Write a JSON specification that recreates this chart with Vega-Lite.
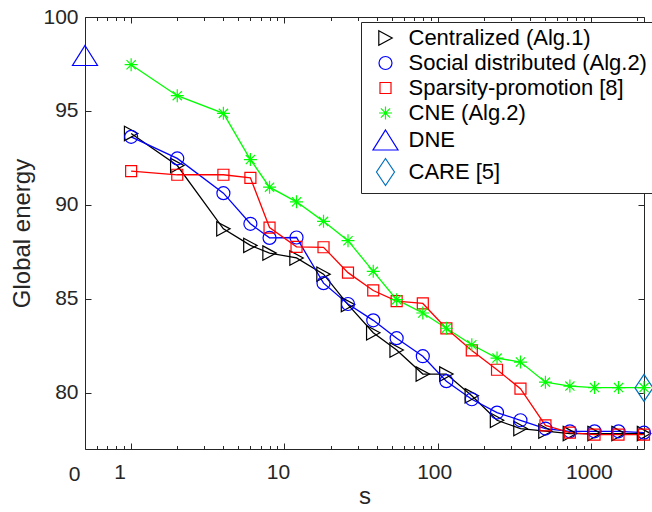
{
  "$schema": "https://vega.github.io/schema/vega-lite/v6.json",
  "width": 559,
  "height": 432,
  "autosize": {"type": "none"},
  "padding": {"left": 85, "top": 17, "right": 8, "bottom": 63},
  "background": "white",
  "config": {
    "view": {"stroke": null},
    "font": "Liberation Sans",
    "axis": {
      "domainColor": "#262626", "tickColor": "#262626", "labelColor": "#262626", "titleColor": "#262626",
      "labelFont": "Liberation Sans", "titleFont": "Liberation Sans", "labelFontSize": 21, "titleFontSize": 24,
      "titleFontWeight": "normal", "grid": false, "domainWidth": 1, "tickWidth": 1, "labelOverlap": false, "labelFlush": false
    },
    "legend": {
      "title": null, "orient": "none", "legendX": 276, "legendY": 5, "padding": 5,
      "strokeColor": "#262626", "fillColor": "white", "cornerRadius": 0,
      "labelFont": "Liberation Sans", "labelFontSize": 22, "labelColor": "#000000", "labelLimit": 500,
      "symbolSize": 400, "symbolStrokeWidth": 1.2, "rowPadding": 3, "labelOffset": 12, "symbolOffset": 8.5
    }
  },
  "data": {
    "values": [
      {"series": "Centralized (Alg.1)", "s": 1, "energy": 93.8},
      {"series": "Centralized (Alg.1)", "s": 2, "energy": 92.09},
      {"series": "Centralized (Alg.1)", "s": 4, "energy": 88.72},
      {"series": "Centralized (Alg.1)", "s": 6, "energy": 87.84},
      {"series": "Centralized (Alg.1)", "s": 8, "energy": 87.43},
      {"series": "Centralized (Alg.1)", "s": 12, "energy": 87.17},
      {"series": "Centralized (Alg.1)", "s": 18, "energy": 86.31},
      {"series": "Centralized (Alg.1)", "s": 26, "energy": 84.69},
      {"series": "Centralized (Alg.1)", "s": 38, "energy": 83.19},
      {"series": "Centralized (Alg.1)", "s": 54, "energy": 82.27},
      {"series": "Centralized (Alg.1)", "s": 80, "energy": 80.99},
      {"series": "Centralized (Alg.1)", "s": 114, "energy": 80.99},
      {"series": "Centralized (Alg.1)", "s": 167, "energy": 79.83},
      {"series": "Centralized (Alg.1)", "s": 244, "energy": 78.53},
      {"series": "Centralized (Alg.1)", "s": 347, "energy": 78.09},
      {"series": "Centralized (Alg.1)", "s": 505, "energy": 77.95},
      {"series": "Centralized (Alg.1)", "s": 729, "energy": 77.82},
      {"series": "Centralized (Alg.1)", "s": 1056, "energy": 77.82},
      {"series": "Centralized (Alg.1)", "s": 1514, "energy": 77.82},
      {"series": "Centralized (Alg.1)", "s": 2220, "energy": 77.82},
      {"series": "Social distributed (Alg.2)", "s": 1, "energy": 93.62},
      {"series": "Social distributed (Alg.2)", "s": 2, "energy": 92.47},
      {"series": "Social distributed (Alg.2)", "s": 4, "energy": 90.62},
      {"series": "Social distributed (Alg.2)", "s": 6, "energy": 88.99},
      {"series": "Social distributed (Alg.2)", "s": 8, "energy": 88.24},
      {"series": "Social distributed (Alg.2)", "s": 12, "energy": 88.26},
      {"series": "Social distributed (Alg.2)", "s": 18, "energy": 85.83},
      {"series": "Social distributed (Alg.2)", "s": 26, "energy": 84.72},
      {"series": "Social distributed (Alg.2)", "s": 38, "energy": 83.85},
      {"series": "Social distributed (Alg.2)", "s": 54, "energy": 82.9},
      {"series": "Social distributed (Alg.2)", "s": 80, "energy": 81.94},
      {"series": "Social distributed (Alg.2)", "s": 114, "energy": 80.61},
      {"series": "Social distributed (Alg.2)", "s": 167, "energy": 79.65},
      {"series": "Social distributed (Alg.2)", "s": 244, "energy": 78.94},
      {"series": "Social distributed (Alg.2)", "s": 347, "energy": 78.53},
      {"series": "Social distributed (Alg.2)", "s": 505, "energy": 78.09},
      {"series": "Social distributed (Alg.2)", "s": 729, "energy": 77.94},
      {"series": "Social distributed (Alg.2)", "s": 1056, "energy": 77.94},
      {"series": "Social distributed (Alg.2)", "s": 1514, "energy": 77.94},
      {"series": "Social distributed (Alg.2)", "s": 2220, "energy": 77.87},
      {"series": "Sparsity-promotion [8]", "s": 1, "energy": 91.79},
      {"series": "Sparsity-promotion [8]", "s": 2, "energy": 91.6},
      {"series": "Sparsity-promotion [8]", "s": 4, "energy": 91.6},
      {"series": "Sparsity-promotion [8]", "s": 6, "energy": 91.44},
      {"series": "Sparsity-promotion [8]", "s": 8, "energy": 88.79},
      {"series": "Sparsity-promotion [8]", "s": 12, "energy": 87.76},
      {"series": "Sparsity-promotion [8]", "s": 18, "energy": 87.74},
      {"series": "Sparsity-promotion [8]", "s": 26, "energy": 86.39},
      {"series": "Sparsity-promotion [8]", "s": 38, "energy": 85.44},
      {"series": "Sparsity-promotion [8]", "s": 54, "energy": 84.87},
      {"series": "Sparsity-promotion [8]", "s": 80, "energy": 84.75},
      {"series": "Sparsity-promotion [8]", "s": 114, "energy": 83.42},
      {"series": "Sparsity-promotion [8]", "s": 167, "energy": 82.25},
      {"series": "Sparsity-promotion [8]", "s": 244, "energy": 81.22},
      {"series": "Sparsity-promotion [8]", "s": 347, "energy": 80.21},
      {"series": "Sparsity-promotion [8]", "s": 505, "energy": 78.26},
      {"series": "Sparsity-promotion [8]", "s": 729, "energy": 77.87},
      {"series": "Sparsity-promotion [8]", "s": 1056, "energy": 77.77},
      {"series": "Sparsity-promotion [8]", "s": 1514, "energy": 77.77},
      {"series": "Sparsity-promotion [8]", "s": 2220, "energy": 77.77},
      {"series": "CNE (Alg.2)", "s": 1, "energy": 97.46},
      {"series": "CNE (Alg.2)", "s": 2, "energy": 95.81},
      {"series": "CNE (Alg.2)", "s": 4, "energy": 94.87},
      {"series": "CNE (Alg.2)", "s": 6, "energy": 92.41},
      {"series": "CNE (Alg.2)", "s": 8, "energy": 90.94},
      {"series": "CNE (Alg.2)", "s": 12, "energy": 90.16},
      {"series": "CNE (Alg.2)", "s": 18, "energy": 89.12},
      {"series": "CNE (Alg.2)", "s": 26, "energy": 88.09},
      {"series": "CNE (Alg.2)", "s": 38, "energy": 86.46},
      {"series": "CNE (Alg.2)", "s": 54, "energy": 84.95},
      {"series": "CNE (Alg.2)", "s": 80, "energy": 84.24},
      {"series": "CNE (Alg.2)", "s": 114, "energy": 83.43},
      {"series": "CNE (Alg.2)", "s": 167, "energy": 82.55},
      {"series": "CNE (Alg.2)", "s": 244, "energy": 81.84},
      {"series": "CNE (Alg.2)", "s": 347, "energy": 81.63},
      {"series": "CNE (Alg.2)", "s": 505, "energy": 80.56},
      {"series": "CNE (Alg.2)", "s": 729, "energy": 80.35},
      {"series": "CNE (Alg.2)", "s": 1056, "energy": 80.27},
      {"series": "CNE (Alg.2)", "s": 1514, "energy": 80.27},
      {"series": "CNE (Alg.2)", "s": 2220, "energy": 80.27},
      {"series": "DNE", "s": 0.5, "energy": 97.95},
      {"series": "CARE [5]", "s": 2220, "energy": 80.25}
    ]
  },
  "layer": [
    {
      "transform": [{"filter": "datum.series != 'DNE' && datum.series != 'CARE [5]'"}],
      "mark": {"type": "line", "strokeWidth": 1.3, "clip": false},
      "encoding": {
        "x": {
          "field": "s", "type": "quantitative",
          "scale": {"type": "log", "domain": [0.5, 2220], "nice": false},
          "axis": {
            "orient": "bottom", "title": "s", "titleX": 279.5, "titleY": 54, "titleBaseline": "alphabetic", "titleAlign": "center",
            "values": [0.5, 0.6, 0.7, 0.8, 0.9, 1, 2, 3, 4, 5, 6, 7, 8, 9, 10, 20, 30, 40, 50, 60, 70, 80, 90, 100, 200, 300, 400, 500, 600, 700, 800, 900, 1000, 2000],
            "labelExpr": "datum.value == 0.5 ? '0' : (datum.value == 1 || datum.value == 10 || datum.value == 100 || datum.value == 1000) ? '' + datum.value : ''",
            "tickSize": {"condition": {"test": "datum.value == 1 || datum.value == 10 || datum.value == 100 || datum.value == 1000", "value": -6}, "value": -3.5},
            "labelOffset": {"condition": [
              {"test": "datum.value < 0.7", "value": -11},
              {"test": "datum.value < 5", "value": -11.5},
              {"test": "datum.value < 50", "value": -6.5},
              {"test": "datum.value < 500", "value": -3.5}
            ], "value": -2},
            "labelBaseline": "alphabetic", "labelPadding": 35
          }
        },
        "y": {
          "field": "energy", "type": "quantitative",
          "scale": {"domain": [77, 100], "nice": false, "zero": false},
          "axis": {
            "orient": "left", "title": "Global energy", "titleX": -63, "titleY": 216, "titleAngle": -90, "titleBaseline": "middle", "titleAlign": "center",
            "values": [80, 85, 90, 95, 100], "tickSize": -6, "labelPadding": 13
          }
        },
        "color": {
          "field": "series", "type": "nominal",
          "scale": {
            "domain": ["Centralized (Alg.1)", "Social distributed (Alg.2)", "Sparsity-promotion [8]", "CNE (Alg.2)", "DNE", "CARE [5]"],
            "range": ["#000000", "#0000ff", "#ff0000", "#00ff00", "#0000ff", "#0072bd"]
          }
        }
      }
    },
    {
      "mark": {"type": "point", "filled": false, "opacity": 1, "strokeWidth": 1.2, "size": 400, "clip": false},
      "encoding": {
        "x": {
          "field": "s", "type": "quantitative",
          "scale": {"type": "log", "domain": [0.5, 2220], "nice": false},
          "axis": {
            "orient": "top", "title": null, "labels": false,
            "values": [0.5, 0.6, 0.7, 0.8, 0.9, 1, 2, 3, 4, 5, 6, 7, 8, 9, 10, 20, 30, 40, 50, 60, 70, 80, 90, 100, 200, 300, 400, 500, 600, 700, 800, 900, 1000, 2000],
            "tickSize": {"condition": {"test": "datum.value == 1 || datum.value == 10 || datum.value == 100 || datum.value == 1000", "value": -6}, "value": -3.5}
          }
        },
        "y": {
          "field": "energy", "type": "quantitative",
          "scale": {"domain": [77, 100], "nice": false, "zero": false},
          "axis": {"orient": "right", "title": null, "labels": false, "values": [80, 85, 90, 95, 100], "tickSize": -6}
        },
        "color": {
          "field": "series", "type": "nominal",
          "scale": {
            "domain": ["Centralized (Alg.1)", "Social distributed (Alg.2)", "Sparsity-promotion [8]", "CNE (Alg.2)", "DNE", "CARE [5]"],
            "range": ["#000000", "#0000ff", "#ff0000", "#00ff00", "#0000ff", "#0072bd"]
          }
        },
        "shape": {
          "field": "series", "type": "nominal",
          "scale": {
            "domain": ["Centralized (Alg.1)", "Social distributed (Alg.2)", "Sparsity-promotion [8]", "CNE (Alg.2)", "DNE", "CARE [5]"],
            "range": [
              "M-0.67,-0.72L0.67,0L-0.67,0.72Z",
              "M0.65,0A0.65,0.65,0,1,1,-0.65,0A0.65,0.65,0,1,1,0.65,0Z",
              "M-0.55,-0.55L0.55,-0.55L0.55,0.55L-0.55,0.55Z",
              "M-0.65,0L0.65,0M0,-0.65L0,0.65M-0.46,-0.46L0.46,0.46M-0.46,0.46L0.46,-0.46",
              "M0,-1L1.25,1L-1.25,1Z",
              "M0,-1.35L0.9,0L0,1.35L-0.9,0Z"
            ]
          }
        }
      }
    }
  ],
  "resolve": {"axis": {"x": "independent", "y": "independent"}}
}
